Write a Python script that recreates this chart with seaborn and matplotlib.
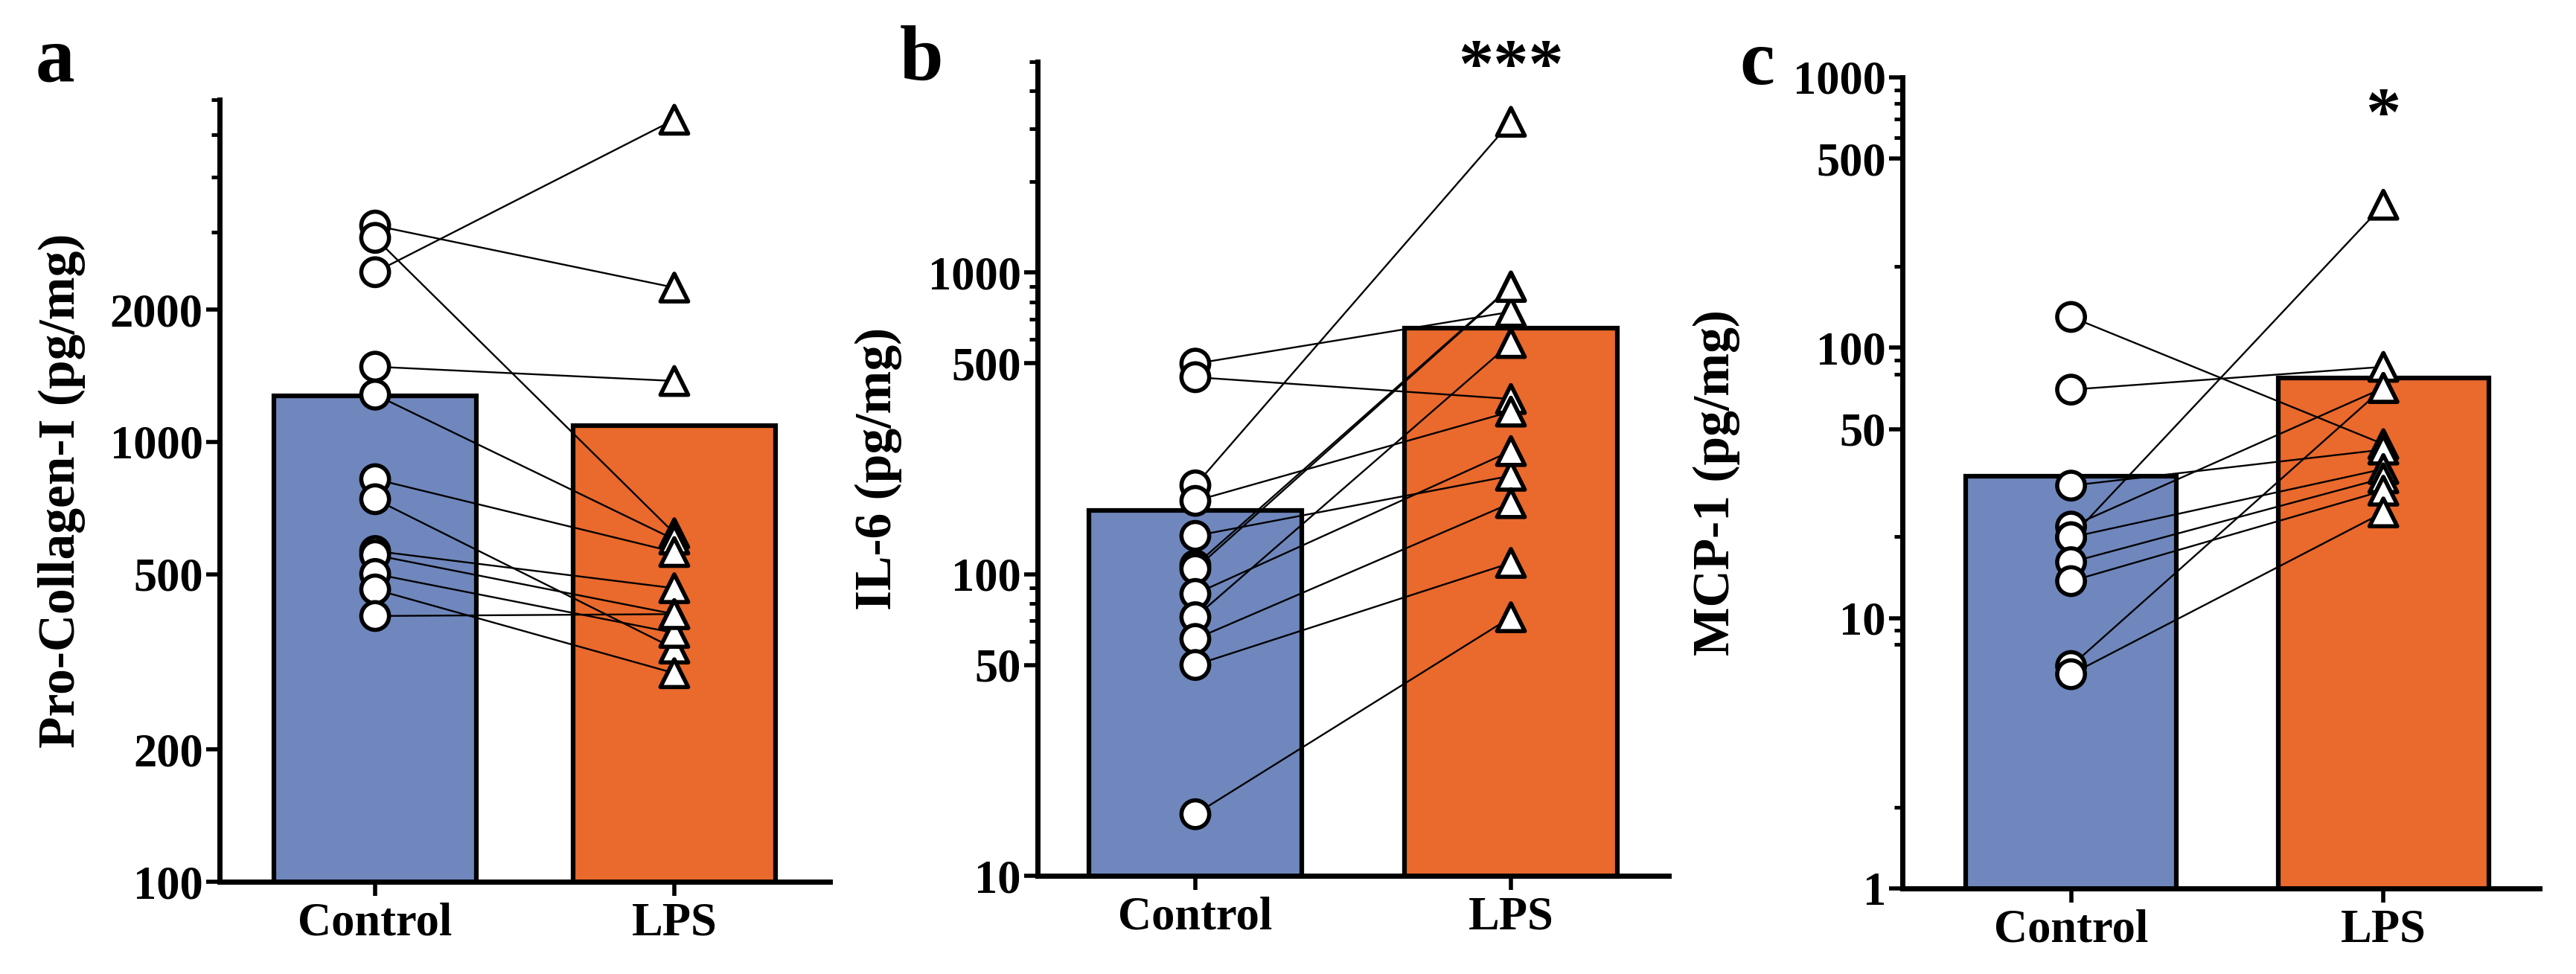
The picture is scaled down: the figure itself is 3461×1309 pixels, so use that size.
import numpy as np
import pandas as pd
import matplotlib
matplotlib.use('Agg')
import matplotlib.pyplot as plt
from matplotlib.ticker import FixedLocator, NullFormatter
import seaborn as sns

groups = ['Control', 'LPS']
bar_colors = ['#6F87BD', '#EA692C']

# Panel a: Pro-Collagen-I (pg/mg), paired by index
collagen_control = [3105, 2911, 2432, 1483, 1281, 823, 741, 565, 553, 501, 462, 402]
collagen_lps = [2244, 620, 5403, 1376, 600, 562, 339, 465, 406, 368, 298, 406]

# Panel b: IL-6 (pg/mg)
il6_control = [499, 450, 197, 175, 134, 107, 104, 86, 72, 61, 50, 16]
il6_lps = [741, 381, 3162, 346, 212, 900, 896, 256, 584, 172, 109, 72]

# Panel c: MCP-1 (pg/mg)
mcp1_control = [130, 70, 30.9, 21.8, 19.9, 19.9, 16.1, 13.7, 6.65, 6.2]
mcp1_lps = [44, 85, 42, 71, 338, 35.6, 32.9, 29.6, 71, 24.6]

panels = [
    dict(letter='a', ylabel='Pro-Collagen-I (pg/mg)', ctrl=collagen_control, lps=collagen_lps,
         ylim=(100, 6000), major=[100, 200, 500, 1000, 2000], minor=[3000, 4000, 5000, 6000],
         star='', rect=(295, 134, 1115, 1185), xlim=(-0.52, 1.52), lab_x=-0.22),
    dict(letter='b', ylabel='IL-6 (pg/mg)', ctrl=il6_control, lps=il6_lps,
         ylim=(10, 5000), major=[10, 50, 100, 500, 1000],
         minor=[60, 70, 80, 90, 600, 700, 800, 900, 2000, 3000, 4000, 5000],
         star='***', star_y=0.99, rect=(1394, 83, 2242, 1177), xlim=(-0.5, 1.5), lab_x=-0.215),
    dict(letter='c', ylabel='MCP-1 (pg/mg)', ctrl=mcp1_control, lps=mcp1_lps,
         ylim=(1, 1000), major=[1, 10, 50, 100, 500, 1000],
         minor=[2, 8, 9, 20, 80, 90, 200, 600, 700, 800, 900],
         star='*', star_y=0.95, rect=(2556, 104, 3412, 1194), xlim=(-0.54, 1.5), lab_x=-0.255),
]

W, H = 3461, 1309
sns.set_style('ticks')
plt.rcParams['font.family'] = ['Liberation Serif', 'DejaVu Serif']
plt.rcParams['font.weight'] = 'bold'
for key in ['text.color', 'axes.labelcolor', 'xtick.color', 'ytick.color', 'axes.edgecolor']:
    plt.rcParams[key] = 'black'

fig = plt.figure(figsize=(W / 100, H / 100), dpi=100)

for p in panels:
    l, t, r, b = p['rect']
    ax = fig.add_axes([l / W, 1 - b / H, (r - l) / W, (b - t) / H])

    n = len(p['ctrl'])
    df = pd.DataFrame({
        'group': ['Control'] * n + ['LPS'] * n,
        'value': list(p['ctrl']) + list(p['lps']),
        'subject': list(range(n)) * 2,
    })
    df['pos'] = df['group'].map({g: i for i, g in enumerate(groups)})

    # bar = arithmetic mean (computed before switching to log scale)
    sns.barplot(data=df, x='group', y='value', hue='group', order=groups, hue_order=groups,
                palette=bar_colors, errorbar=None, width=0.675, edgecolor='black',
                linewidth=4.5, saturation=1, legend=False, ax=ax, zorder=1)
    ax.set_yscale('log')

    sns.lineplot(data=df, x='pos', y='value', units='subject', estimator=None,
                 color='black', linewidth=1.7, legend=False, ax=ax, zorder=2)
    sns.scatterplot(data=df, x='pos', y='value', style='group', style_order=groups,
                    markers={'Control': 'o', 'LPS': '^'}, s=720, color='white',
                    edgecolor='black', linewidth=4, legend=False, ax=ax, zorder=3,
                    clip_on=False)

    ax.set_xlim(*p['xlim'])
    ax.set_ylim(*p['ylim'])
    ax.set_xticks([0, 1])
    ax.set_xticklabels(groups)
    ax.yaxis.set_major_locator(FixedLocator(p['major']))
    ax.yaxis.set_minor_locator(FixedLocator(p['minor']))
    ax.yaxis.set_minor_formatter(NullFormatter())
    ax.set_yticklabels([str(v) for v in p['major']])

    sns.despine(ax=ax)
    for s in ['left', 'bottom']:
        ax.spines[s].set_linewidth(5)
        ax.spines[s].set_color('black')
    ax.tick_params(axis='both', which='major', width=4, length=13, color='black',
                   labelsize=45, pad=3)
    ax.tick_params(axis='y', which='minor', width=3.5, length=8, color='black')
    ax.tick_params(axis='x', which='major', length=14, pad=6)
    for lab in ax.get_xticklabels() + ax.get_yticklabels():
        lab.set_fontweight('bold')

    ax.set_xlabel('')
    ax.set_ylabel(p['ylabel'], fontsize=50, fontweight='bold')
    ax.yaxis.set_label_coords(p['lab_x'], 0.5)

    if p['star']:
        ax.text(1, p['star_y'], p['star'], transform=ax.get_xaxis_transform(),
                ha='center', va='center', fontsize=68, fontweight='bold')

fig.text(48 / W, 1 - 108 / H, 'a', fontsize=76, fontweight='bold', va='baseline')
fig.text(1209 / W, 1 - 108 / H, 'b', fontsize=76, fontweight='bold', va='baseline')
fig.text(2337 / W, 1 - 113 / H, 'c', fontsize=76, fontweight='bold', va='baseline')

fig.savefig('out.png', dpi=100, facecolor='white')
